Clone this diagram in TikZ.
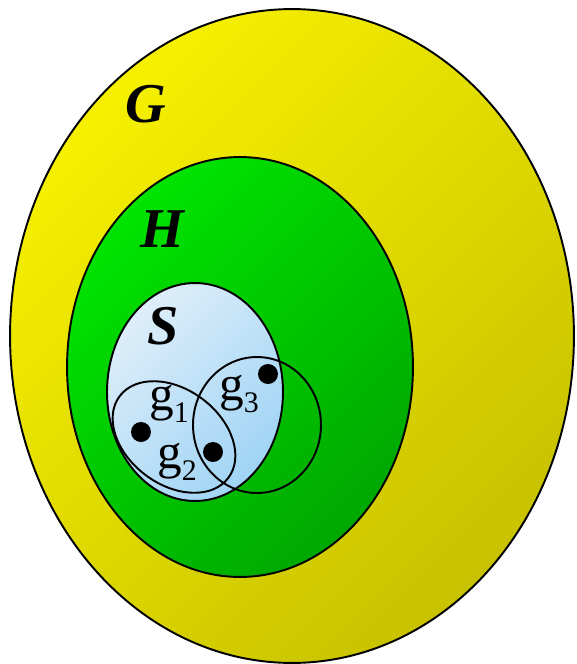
\documentclass[tikz,border=0pt]{standalone}
\usepackage{fontspec}
\setmainfont{Liberation Serif}
\usepackage{tikz}
\usetikzlibrary{positioning}
\definecolor{yellowlt}{RGB}{246,240,0}
\definecolor{yellowdk}{RGB}{200,194,0}
\definecolor{greenlt}{RGB}{0,228,0}
\definecolor{greendk}{RGB}{0,168,0}
\definecolor{bluelt}{RGB}{222,238,250}
\definecolor{bluedk}{RGB}{160,212,245}
\newcommand{\gsub}[1]{g\raisebox{-7pt}{\fontsize{17}{17}\selectfont #1}}

\begin{document}
\begin{tikzpicture}[x=0.02cm,y=-0.02cm,
    setline/.style={draw=black,line width=1.1pt},
    setname/.style={font=\fontsize{32}{32}\selectfont\bfseries\itshape,anchor=base west,inner sep=0pt},
    elemname/.style={font=\fontsize{28}{28}\selectfont,anchor=base west,inner sep=0pt},
    elemdot/.style={fill=black}]
  \useasboundingbox (0,0) rectangle (577,664);
  % the three nested sets
  \draw[setline,top color=yellowlt,bottom color=yellowdk,shading angle=45]
     (292,336) ellipse [x radius=5.64cm,y radius=6.54cm];
  \draw[setline,top color=greenlt,bottom color=greendk,shading angle=45]
     (240,367) ellipse [x radius=3.46cm,y radius=4.2cm];
  \draw[setline,top color=bluelt,bottom color=bluedk,shading angle=45]
     (195,392) ellipse [x radius=1.76cm,y radius=2.18cm];
  \node[setname] (labG) at (125,122) {G};
  \node[setname] (labH) at (140,247) {H};
  \node[setname] (labS) at (147,344) {S};
  % elements and their groups
  \draw[setline] (174,437) ellipse [x radius=1.36cm,y radius=0.95cm,rotate=-37];
  \draw[setline] (257,425) ellipse [x radius=1.28cm,y radius=1.36cm];
  \fill[elemdot] (141,432) circle (0.2cm);
  \fill[elemdot] (213,452) circle (0.2cm);
  \fill[elemdot] (268,374) circle (0.2cm);
  \node[elemname] (labg1) at (149,410) {\gsub{1}};
  \node[elemname] (labg2) at (157,468) {\gsub{2}};
  \node[elemname] (labg3) at (219,400) {\gsub{3}};
\end{tikzpicture}
\end{document}
